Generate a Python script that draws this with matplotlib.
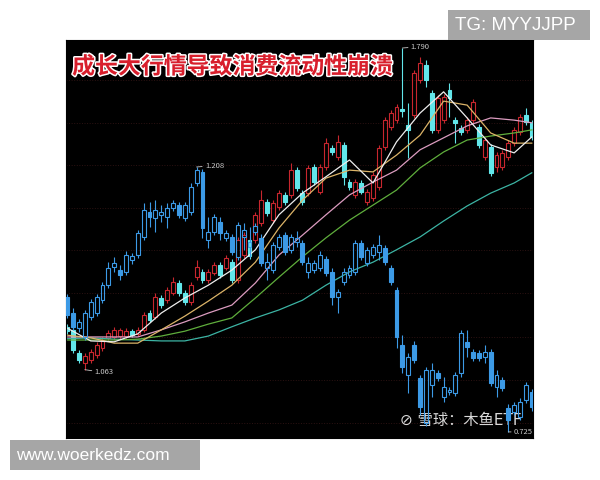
import numpy as np
import matplotlib
matplotlib.use('Agg')
import matplotlib.pyplot as plt
import matplotlib.patheffects as pe
from matplotlib.patches import Rectangle

plt.rcParams['font.family'] = ['Noto Sans CJK SC', 'DejaVu Sans']

# 成长风格 K线 (红涨 / 青跌)
red_open = [1.159, 1.153, 1.101, 1.078, 1.085, 1.096, 1.112, 1.135, 1.137, 1.139,
            1.139, 1.150, 1.144, 1.153, 1.191, 1.182, 1.225, 1.220, 1.236, 1.259,
            1.236, 1.216, 1.272, 1.284, 1.266, 1.282, 1.300, 1.293, 1.306, 1.266,
            1.322, 1.356, 1.356, 1.394, 1.442, 1.401, 1.431, 1.458, 1.458, 1.514,
            1.462, 1.462, 1.521, 1.465, 1.521, 1.564, 1.544, 1.571, 1.487, 1.458,
            1.485, 1.442, 1.451, 1.476, 1.566, 1.611, 1.627, 1.652, 1.616, 1.639,
            1.718, 1.752, 1.688, 1.605, 1.627, 1.695, 1.627, 1.609, 1.605, 1.627,
            1.611, 1.544, 1.566, 1.521, 1.521, 1.544, 1.575, 1.600, 1.639, 1.621]
red_close = [1.150, 1.108, 1.085, 1.094, 1.103, 1.119, 1.130, 1.146, 1.153, 1.153,
             1.150, 1.141, 1.153, 1.187, 1.175, 1.227, 1.209, 1.243, 1.261, 1.236,
             1.216, 1.254, 1.295, 1.266, 1.284, 1.300, 1.277, 1.315, 1.266, 1.356,
             1.367, 1.320, 1.413, 1.446, 1.417, 1.440, 1.462, 1.442, 1.514, 1.474,
             1.442, 1.519, 1.487, 1.521, 1.575, 1.555, 1.578, 1.498, 1.476, 1.487,
             1.465, 1.465, 1.503, 1.564, 1.627, 1.643, 1.657, 1.648, 1.605, 1.734,
             1.756, 1.718, 1.605, 1.677, 1.679, 1.677, 1.621, 1.600, 1.627, 1.668,
             1.571, 1.582, 1.507, 1.548, 1.553, 1.575, 1.605, 1.634, 1.623, 1.589]
red_high = [1.166, 1.160, 1.108, 1.101, 1.110, 1.126, 1.137, 1.152, 1.160, 1.158,
            1.157, 1.156, 1.160, 1.194, 1.198, 1.236, 1.232, 1.250, 1.272, 1.265,
            1.243, 1.261, 1.311, 1.291, 1.291, 1.307, 1.307, 1.322, 1.313, 1.363,
            1.374, 1.363, 1.420, 1.469, 1.449, 1.447, 1.469, 1.465, 1.530, 1.521,
            1.469, 1.526, 1.528, 1.528, 1.587, 1.571, 1.593, 1.578, 1.494, 1.494,
            1.492, 1.472, 1.510, 1.571, 1.634, 1.650, 1.664, 1.790, 1.666, 1.741,
            1.770, 1.763, 1.695, 1.684, 1.686, 1.711, 1.634, 1.616, 1.634, 1.675,
            1.618, 1.589, 1.573, 1.555, 1.560, 1.582, 1.612, 1.641, 1.654, 1.628]
red_low = [1.143, 1.100, 1.078, 1.063, 1.078, 1.090, 1.105, 1.128, 1.130, 1.133,
           1.134, 1.136, 1.139, 1.148, 1.170, 1.177, 1.203, 1.214, 1.231, 1.230,
           1.210, 1.210, 1.266, 1.260, 1.260, 1.277, 1.271, 1.288, 1.260, 1.260,
           1.316, 1.314, 1.350, 1.388, 1.410, 1.395, 1.425, 1.436, 1.452, 1.467,
           1.436, 1.456, 1.481, 1.459, 1.515, 1.549, 1.538, 1.480, 1.470, 1.452,
           1.459, 1.436, 1.445, 1.470, 1.560, 1.605, 1.620, 1.634, 1.541, 1.632,
           1.711, 1.702, 1.598, 1.598, 1.620, 1.634, 1.575, 1.594, 1.598, 1.620,
           1.564, 1.538, 1.500, 1.510, 1.515, 1.538, 1.569, 1.594, 1.616, 1.582]

# 消费风格 K线 (蓝色, 右侧独立价格轴)
blue_open = [0.971, 0.942, 0.914, 0.898, 0.935, 0.942, 0.966, 0.993, 1.026, 1.020,
             1.017, 1.038, 1.048, 1.080, 1.126, 1.115, 1.121, 1.117, 1.133, 1.139,
             1.115, 1.126, 1.179, 1.199, 1.075, 1.090, 1.108, 1.079, 1.080, 1.044,
             1.080, 1.062, 1.090, 1.079, 1.024, 1.020, 1.062, 1.084, 1.057, 1.071,
             1.069, 1.017, 1.020, 1.024, 1.040, 1.017, 0.971, 0.998, 1.011, 1.017,
             1.069, 1.033, 1.048, 1.053, 1.060, 1.024, 0.984, 0.884, 0.829, 0.884,
             0.823, 0.741, 0.810, 0.832, 0.789, 0.798, 0.796, 0.832, 0.889, 0.871,
             0.869, 0.862, 0.871, 0.807, 0.820, 0.769, 0.761, 0.752, 0.783, 0.798]
blue_close = [0.938, 0.916, 0.925, 0.942, 0.962, 0.971, 0.993, 1.024, 1.033, 1.011,
              1.048, 1.046, 1.088, 1.130, 1.117, 1.130, 1.126, 1.133, 1.142, 1.121,
              1.139, 1.172, 1.203, 1.097, 1.090, 1.117, 1.088, 1.088, 1.053, 1.102,
              1.093, 1.071, 1.100, 1.033, 1.035, 1.066, 1.080, 1.053, 1.080, 1.079,
              1.035, 1.033, 1.033, 1.048, 1.015, 0.971, 0.980, 1.017, 1.024, 1.069,
              1.044, 1.057, 1.062, 1.066, 1.035, 0.998, 0.898, 0.843, 0.862, 0.856,
              0.770, 0.838, 0.838, 0.823, 0.807, 0.801, 0.829, 0.905, 0.880, 0.860,
              0.860, 0.871, 0.814, 0.829, 0.805, 0.747, 0.774, 0.780, 0.810, 0.770]
blue_high = [0.977, 0.950, 0.931, 0.948, 0.968, 0.977, 0.999, 1.035, 1.044, 1.029,
             1.054, 1.052, 1.094, 1.142, 1.144, 1.148, 1.139, 1.142, 1.148, 1.145,
             1.145, 1.178, 1.208, 1.205, 1.117, 1.123, 1.117, 1.094, 1.086, 1.108,
             1.106, 1.099, 1.106, 1.085, 1.051, 1.072, 1.086, 1.090, 1.086, 1.092,
             1.075, 1.044, 1.039, 1.054, 1.046, 1.023, 0.986, 1.023, 1.030, 1.075,
             1.075, 1.063, 1.068, 1.084, 1.066, 1.030, 0.990, 0.902, 0.868, 0.890,
             0.829, 0.844, 0.851, 0.838, 0.825, 0.807, 0.835, 0.911, 0.911, 0.877,
             0.875, 0.884, 0.877, 0.838, 0.826, 0.775, 0.780, 0.786, 0.816, 0.804]
blue_low = [0.932, 0.910, 0.908, 0.892, 0.929, 0.936, 0.960, 0.987, 1.017, 1.002,
            1.011, 1.032, 1.042, 1.074, 1.099, 1.090, 1.108, 1.097, 1.127, 1.115,
            1.109, 1.120, 1.173, 1.079, 1.060, 1.084, 1.075, 1.073, 1.047, 1.038,
            1.057, 1.044, 1.084, 1.027, 1.002, 1.014, 1.056, 1.047, 1.051, 1.062,
            1.029, 1.006, 1.014, 1.018, 1.009, 0.956, 0.942, 0.992, 1.005, 1.011,
            1.038, 1.027, 1.042, 1.038, 1.029, 0.992, 0.878, 0.832, 0.796, 0.850,
            0.756, 0.735, 0.789, 0.817, 0.780, 0.792, 0.790, 0.826, 0.862, 0.854,
            0.854, 0.851, 0.808, 0.789, 0.799, 0.725, 0.755, 0.746, 0.777, 0.764]

# 均线 (读图取点)
ma_idx = [0, 4, 8, 12, 16, 20, 24, 28, 32, 36, 40, 44, 48, 52, 56, 60, 64, 68, 72, 76, 79]
ma_white = [1.157, 1.128, 1.126, 1.144, 1.191, 1.225, 1.254, 1.288, 1.334, 1.413, 1.462,
            1.499, 1.537, 1.485, 1.578, 1.643, 1.691, 1.632, 1.571, 1.553, 1.589]
ma_yellow = [1.141, 1.135, 1.123, 1.123, 1.153, 1.184, 1.218, 1.254, 1.306, 1.383, 1.446,
             1.496, 1.514, 1.510, 1.548, 1.593, 1.670, 1.661, 1.598, 1.575, 1.575]
ma_pink = [1.137, 1.137, 1.137, 1.137, 1.153, 1.171, 1.191, 1.209, 1.259, 1.322, 1.367,
           1.413, 1.458, 1.487, 1.514, 1.560, 1.587, 1.614, 1.632, 1.627, 1.621]
ma_green = [1.130, 1.130, 1.130, 1.132, 1.139, 1.150, 1.166, 1.180, 1.225, 1.272, 1.318,
            1.361, 1.401, 1.435, 1.469, 1.519, 1.555, 1.582, 1.591, 1.598, 1.605]
ma_teal = [1.133, 1.135, 1.132, 1.130, 1.128, 1.128, 1.139, 1.160, 1.180, 1.198, 1.220,
           1.254, 1.284, 1.306, 1.334, 1.363, 1.399, 1.433, 1.462, 1.485, 1.508]

grid_levels = [0.943, 1.040, 1.137, 1.236, 1.334, 1.428, 1.526, 1.620, 1.718]


def draw_candles(ax, o, h, l, c, up_color, down_color, up_hollow, down_hollow, w=0.66):
    o, h, l, c = map(np.asarray, (o, h, l, c))
    x = np.arange(len(o))
    top = np.maximum(o, c)
    bot = np.minimum(o, c)
    up = c >= o
    cols = np.where(up, up_color, down_color)
    ax.vlines(x, top, h, colors=cols, lw=0.8, zorder=3)
    ax.vlines(x, l, bot, colors=cols, lw=0.8, zorder=3)
    for flag, col, hollow in ((up, up_color, up_hollow), (~up, down_color, down_hollow)):
        ax.bar(x[flag], np.maximum(top[flag] - bot[flag], 0.002), bottom=bot[flag], width=w,
               facecolor='none' if hollow else col, edgecolor=col, linewidth=0.8, zorder=4)


fig = plt.figure(figsize=(6, 4.8), dpi=100)
fig.patch.set_facecolor('white')
ax = fig.add_axes([66 / 600, 1 - 438 / 480, 467 / 600, 398 / 480])
ax.set_facecolor('black')
ax.set_xlim(-0.2, 79.2)
ax.set_ylim(0.9086, 1.8081)

ax.set_yticks(grid_levels)
ax.grid(axis='y', color='#2c1212', linestyle=':', linewidth=0.7)
ax.set_xticks([])
ax.tick_params(length=0, labelleft=False)
for s in ax.spines.values():
    s.set_color('#555555')
    s.set_linewidth(0.6)

draw_candles(ax, red_open, red_high, red_low, red_close, '#c8262e', '#62e6ea', True, False)

ax.plot(ma_idx, ma_teal, color='#3cb4a4', lw=0.9, zorder=5)
ax.plot(ma_idx, ma_green, color='#5fae3c', lw=0.9, zorder=5)
ax.plot(ma_idx, ma_pink, color='#dc9cc0', lw=0.9, zorder=5)
ax.plot(ma_idx, ma_yellow, color='#dcb468', lw=0.9, zorder=5)
ax.plot(ma_idx, ma_white, color='#eeeeee', lw=0.9, zorder=5)

ax2 = ax.twinx()
ax2.set_ylim(0.7139, 1.4395)
ax2.set_yticks([])
ax2.set_xlim(-0.2, 79.2)
draw_candles(ax2, blue_open, blue_high, blue_low, blue_close, '#3c9ae6', '#3c9ae6', True, False)

lab = dict(fontsize=5.5, color='#c8c8c8', textcoords='offset points', va='center', ha='left',
           arrowprops=dict(arrowstyle='-', color='#c8c8c8', lw=0.6, shrinkA=0, shrinkB=0))
ax.annotate('1.790', xy=(57, 1.790), xytext=(6, 1), **lab)
ax.annotate('1.063', xy=(3, 1.063), xytext=(7, -2), **lab)
ax2.annotate('1.208', xy=(22, 1.208), xytext=(6, 1), **lab)
ax2.annotate('0.725', xy=(75, 0.725), xytext=(4, 0), clip_on=True, **lab)

ax.text(0.013, 0.932, '成长大行情导致消费流动性崩溃', transform=ax.transAxes,
        fontsize=16.5, fontweight='bold', color='#d81e2c', va='center', ha='left',
        path_effects=[pe.withStroke(linewidth=2.2, foreground='white')], zorder=10)

ax.text(0.715, 0.045, '⊘ 雪球：木鱼ETF', transform=ax.transAxes, fontsize=11,
        color='white', alpha=0.85, va='center', ha='left', zorder=10,
        family=['DejaVu Sans', 'Noto Sans CJK SC'])

fig.add_artist(Rectangle((448 / 600, 1 - 40 / 480), 142 / 600, 30 / 480,
                         transform=fig.transFigure, facecolor='#a6a6a6', edgecolor='none'))
fig.text(455 / 600, 1 - 25 / 480, 'TG: MYYJJPP', fontsize=13.5, color='white',
         family='Liberation Sans', va='center', ha='left')
fig.add_artist(Rectangle((10 / 600, 1 - 470 / 480), 190 / 600, 30 / 480,
                         transform=fig.transFigure, facecolor='#a6a6a6', edgecolor='none'))
fig.text(16 / 600, 1 - 455 / 480, 'www.woerkedz.com', fontsize=12.5, color='white',
         family='Liberation Sans', va='center', ha='left')

fig.savefig('out.png', dpi=100)
